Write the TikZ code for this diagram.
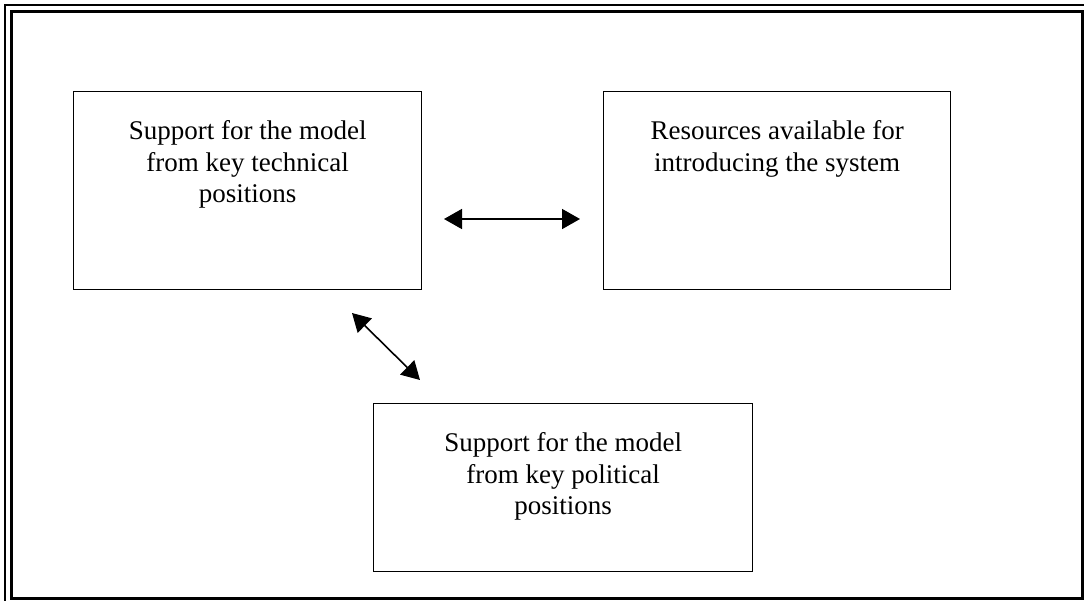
\documentclass[tikz,border=0pt]{standalone}
\usepackage{fontspec}
\setmainfont{Liberation Serif}
\usetikzlibrary{arrows.meta}
% top-aligned, centred text block of a fixed size
\newcommand\panelbox[3]{\parbox[c][#2][t]{#1}{\centering\vspace*{29pt}#3\par}}
\begin{document}
\begin{tikzpicture}[x=1pt,y=-1pt,
  panel/.style={draw=black, line width=1.4pt, inner sep=0pt, anchor=north west,
    font=\fontsize{27}{31.5}\selectfont},
  link/.style={line width=1.6pt,
    {Triangle[length=18pt,width=20pt]}-{Triangle[length=18pt,width=20pt]}}]
\useasboundingbox (0,0) rectangle (1084,600);
% page frame: thin outer rule, thick inner rule
\draw[line width=1.5pt] (5,5) rectangle (1095,610);
\draw[line width=3pt] (11,11.5) rectangle (1082.5,598.5);
% boxes
\node[panel] (tech) at (73,91)
  {\panelbox{348pt}{198pt}{Support for the model\\from key technical\\positions}};
\node[panel] (res) at (603,91)
  {\panelbox{347pt}{198pt}{Resources available for\\introducing the system}};
\node[panel] (pol) at (373,403)
  {\panelbox{379pt}{168pt}{Support for the model\\from key political\\positions}};
% connectors
\coordinate (h1) at (444,219);
\coordinate (h2) at (580,219);
\coordinate (d1) at (352,313);
\coordinate (d2) at (420,380);
\draw[link] (h1) -- (h2);
\draw[link] (d1) -- (d2);
\end{tikzpicture}
\end{document}
